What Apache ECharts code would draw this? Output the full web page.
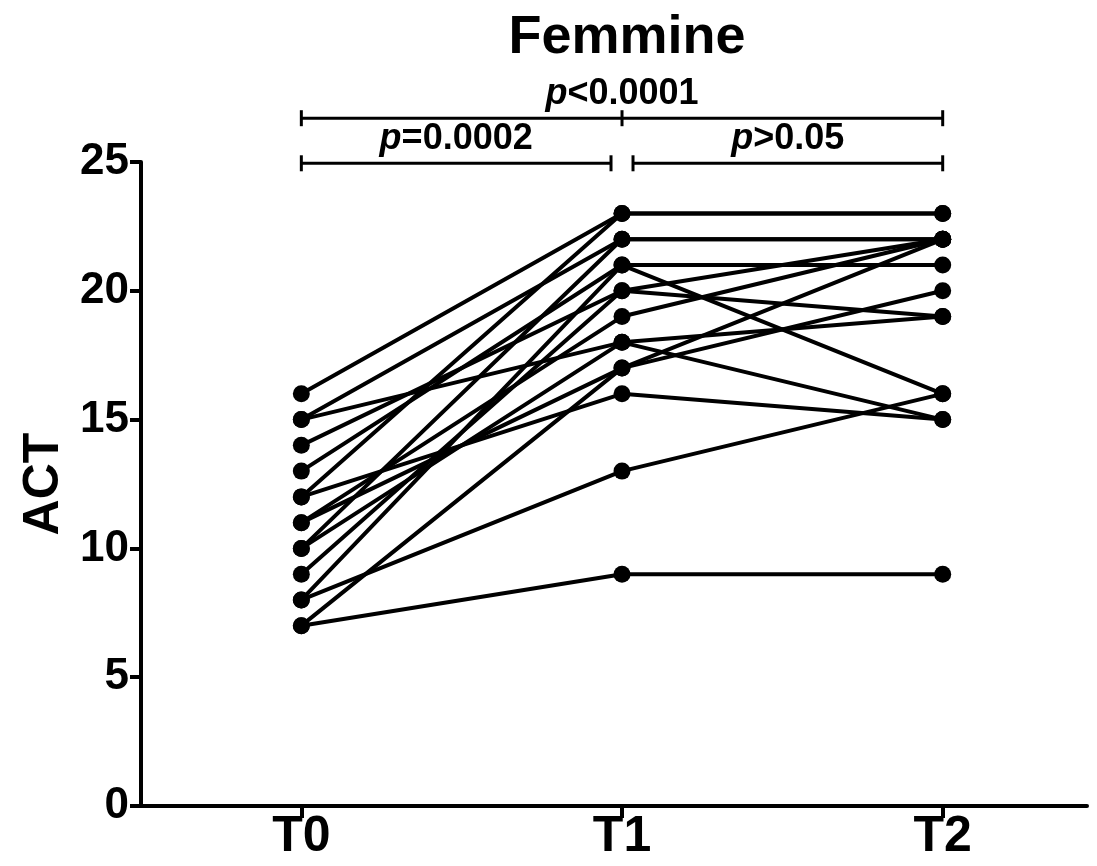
<!DOCTYPE html>
<html>
<head>
<meta charset="utf-8">
<script src="https://cdn.jsdelivr.net/npm/echarts@6/dist/echarts.min.js"></script>
<style>
html, body { margin: 0; padding: 0; background: #fff; }
#chart { width: 1097px; height: 866px; }
</style>
</head>
<body>
<div id="chart"></div>
<script>
// time points and ACT scores, one entry per subject
var timeLabels = ['T0', 'T1', 'T2'];
var actT0 = [16, 15, 15, 14, 13, 12, 12, 11, 11, 10, 10, 9, 8, 8, 7, 7];
var actT1 = [23, 22, 18, 20, 21, 23, 16, 19, 17, 22, 18, 20, 21, 13, 17, 9];
var actT2 = [23, 22, 15, 19, 21, 23, 15, 22, 20, 22, 19, 22, 16, 16, 22, 9];

// comparisons drawn above the plot
var compFrom = [0, 1, 0];
var compTo = [1, 2, 2];
var compLevel = [24.95, 24.95, 26.7];
var compText = ['=0.0002', '>0.05', '<0.0001'];

var FONT = '"Liberation Sans", Arial, sans-serif';

var chart = echarts.init(document.getElementById('chart'));

var series = [];
for (var i = 0; i < actT0.length; i++) {
    series.push({
        type: 'line',
        data: [[0, actT0[i]], [1, actT1[i]], [2, actT2[i]]],
        symbol: 'circle',
        symbolSize: 17,
        lineStyle: { color: '#000', width: 4 },
        itemStyle: { color: '#000' },
        emphasis: { disabled: true },
        animation: false
    });
}

chart.setOption({
    animation: false,
    title: {
        text: 'Femmine',
        left: 622,
        top: 6,
        textAlign: 'center',
        textStyle: { fontFamily: FONT, fontWeight: 'bold', fontSize: 54, color: '#000' }
    },
    grid: { left: 141, right: 10, top: 162, bottom: 60 },
    xAxis: {
        type: 'value',
        min: -0.5,
        max: 2.45,
        axisLine: { lineStyle: { color: '#000', width: 4 } },
        axisTick: { customValues: [0, 1, 2], length: 12, lineStyle: { color: '#000', width: 4 } },
        axisLabel: {
            customValues: [0, 1, 2],
            formatter: function (v) { return timeLabels[Math.round(v)]; },
            margin: 6,
            fontFamily: FONT, fontWeight: 'bold', fontSize: 50, color: '#000'
        },
        splitLine: { show: false }
    },
    yAxis: {
        type: 'value',
        min: 0,
        max: 25,
        interval: 5,
        name: 'ACT',
        nameLocation: 'middle',
        nameGap: 64,
        nameTextStyle: { fontFamily: FONT, fontWeight: 'bold', fontSize: 50, color: '#000' },
        axisLine: { show: true, onZero: false, lineStyle: { color: '#000', width: 4 } },
        axisTick: { show: true, length: 11, lineStyle: { color: '#000', width: 4 } },
        axisLabel: { margin: 12, fontFamily: FONT, fontWeight: 'bold', fontSize: 44, color: '#000' },
        splitLine: { show: false }
    },
    series: series
});

// significance brackets, placed through the axes
var graphics = [];
for (var k = 0; k < compFrom.length; k++) {
    var a = chart.convertToPixel({ gridIndex: 0 }, [compFrom[k], compLevel[k]]);
    var b = chart.convertToPixel({ gridIndex: 0 }, [compTo[k], compLevel[k]]);
    var x1 = a[0], x2 = b[0], y = a[1];
    if (k === 0) x2 -= 11;
    if (k === 1) x1 += 11;
    var st = { stroke: '#000', lineWidth: 3 };
    graphics.push({ type: 'line', shape: { x1: x1, y1: y, x2: x2, y2: y }, style: st, silent: true });
    graphics.push({ type: 'line', shape: { x1: x1, y1: y - 8, x2: x1, y2: y + 8 }, style: st, silent: true });
    graphics.push({ type: 'line', shape: { x1: x2, y1: y - 8, x2: x2, y2: y + 8 }, style: st, silent: true });
    if (k === 2) {
        var m = chart.convertToPixel({ gridIndex: 0 }, [1, compLevel[k]]);
        graphics.push({ type: 'line', shape: { x1: m[0], y1: y - 8, x2: m[0], y2: y + 8 }, style: st, silent: true });
    }
    graphics.push({
        type: 'text',
        x: (x1 + x2) / 2,
        y: y - 6,
        silent: true,
        style: {
            text: '{i|p}{t|' + compText[k] + '}',
            align: 'center',
            verticalAlign: 'bottom',
            rich: {
                i: { fontFamily: FONT, fontWeight: 'bold', fontStyle: 'italic', fontSize: 36, fill: '#000' },
                t: { fontFamily: FONT, fontWeight: 'bold', fontSize: 36, fill: '#000' }
            }
        }
    });
}
chart.setOption({ graphic: graphics });
</script>
</body>
</html>
